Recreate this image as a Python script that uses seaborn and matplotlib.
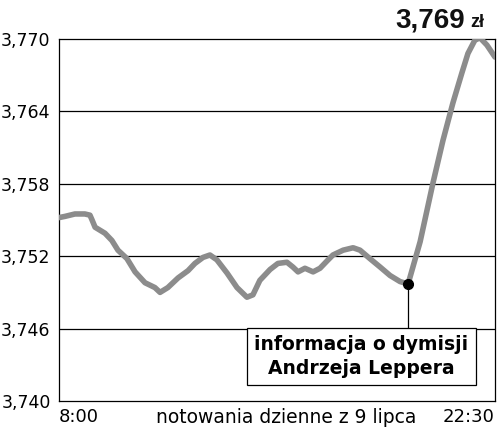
import matplotlib
matplotlib.use("Agg")
import matplotlib.pyplot as plt
import seaborn as sns
import pandas as pd
import numpy as np

# ---- data ----
hours = [8.00, 8.20, 8.53, 8.86, 9.03, 9.10, 9.20, 9.53, 9.76, 9.96,
         10.26, 10.53, 10.86, 11.19, 11.36, 11.62, 11.96, 12.29, 12.52, 12.79,
         13.02, 13.25, 13.59, 13.92, 14.25, 14.45, 14.68, 15.02, 15.28, 15.58,
         15.78, 15.95, 16.18, 16.45, 16.68, 16.95, 17.11, 17.45, 17.78, 18.01,
         18.34, 18.68, 19.01, 19.34, 19.61, 19.77, 20.01, 20.44, 20.77, 21.10,
         21.40, 21.60, 21.83, 22.00, 22.23, 22.50]
rates = [3.7552, 3.7553, 3.7555, 3.7555, 3.7554, 3.7550, 3.7544, 3.7539, 3.7533, 3.7525,
         3.7518, 3.7507, 3.7498, 3.7494, 3.7490, 3.7494, 3.7502, 3.7508, 3.7514, 3.7519,
         3.7521, 3.7517, 3.7506, 3.7494, 3.7486, 3.7488, 3.7500, 3.7509, 3.7514, 3.7515,
         3.7511, 3.7507, 3.7510, 3.7507, 3.7510, 3.7517, 3.7521, 3.7525, 3.7527, 3.7525,
         3.7518, 3.7511, 3.7504, 3.7499, 3.7497, 3.7511, 3.7532, 3.7581, 3.7616, 3.7647,
         3.7672, 3.7688, 3.7699, 3.7701, 3.7695, 3.7685]
event_hour = 19.61
event_rate = 3.7497
event_label = "informacja o dymisji\nAndrzeja Leppera"
y_ticks = [3.740, 3.746, 3.752, 3.758, 3.764, 3.770]
y_tick_labels = ["3,740", "3,746", "3,752", "3,758", "3,764", "3,770"]
x_start_label = "8:00"
x_end_label = "22:30"
x_center_label = "notowania dzienne z 9 lipca"
last_value_label = "3,769"
currency_label = "zł"

df = pd.DataFrame({"hour": hours, "rate": rates})

sns.set_style("white")
plt.rcParams["font.family"] = ["DejaVu Sans"]
plt.rcParams["text.color"] = "black"
plt.rcParams["ytick.color"] = "black"
plt.rcParams["ytick.labelcolor"] = "black"

fig = plt.figure(figsize=(5.0, 4.33), dpi=100)
ax = fig.add_axes([59/500, 1-401/433, (495-59)/500, (401-39)/433])

for yv in y_ticks[1:-1]:
    ax.axhline(yv, color="black", lw=0.9, zorder=1)

sns.lineplot(data=df, x="hour", y="rate", ax=ax, color="#8c8c8c", lw=4.0,
             solid_capstyle="round", zorder=3)

ax.vlines(event_hour, 3.746, event_rate, color="black", lw=0.9, zorder=2)
ax.plot([event_hour], [event_rate], "o", color="black", ms=7, zorder=4)

ax.text(18.06, 3.7437, event_label, ha="center", va="center", fontsize=13.5,
        fontweight="bold", linespacing=1.3, zorder=5, color="black",
        bbox=dict(boxstyle="square,pad=0.4", fc="white", ec="black", lw=0.9))

ax.set_xlim(8, 22.5)
ax.set_ylim(3.740, 3.770)
ax.set_yticks(y_ticks)
ax.set_yticklabels(y_tick_labels, fontsize=12.5, color="black")
ax.set_xticks([])
ax.tick_params(axis="y", length=0, pad=6)
ax.set_xlabel("")
ax.set_ylabel("")
for s in ax.spines.values():
    s.set_visible(True)
    s.set_color("black")
    s.set_linewidth(0.9)

ax.text(0.0, -0.02, x_start_label, transform=ax.transAxes, ha="left", va="top", fontsize=13)
ax.text(1.0, -0.02, x_end_label, transform=ax.transAxes, ha="right", va="top", fontsize=13)
ax.text(0.52, -0.02, x_center_label, transform=ax.transAxes, ha="center", va="top", fontsize=13.5)

fig.text(465/500, 1-27/433, last_value_label, ha="right", va="baseline",
         fontsize=20, fontweight="bold", family="Liberation Sans", color="#111111")
fig.text(470/500, 1-27/433, currency_label, ha="left", va="baseline",
         fontsize=13, fontweight="bold", family="Liberation Sans", color="#111111")

fig.savefig("out.png", dpi=100)
